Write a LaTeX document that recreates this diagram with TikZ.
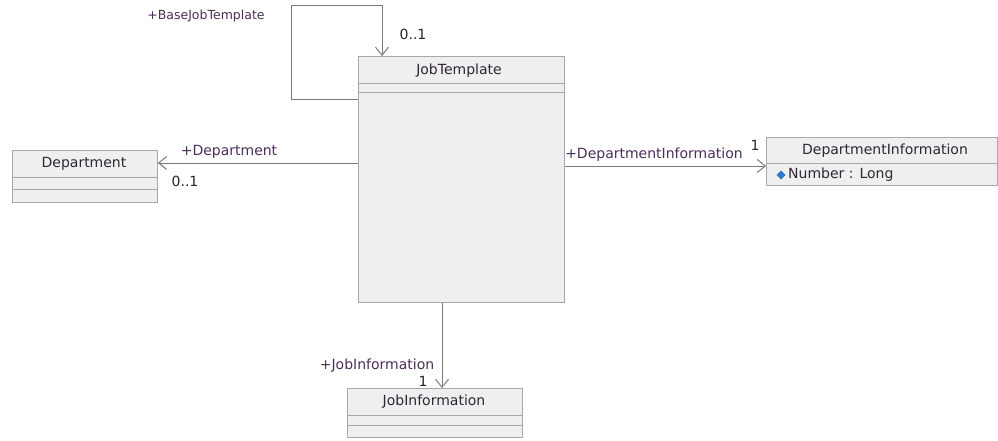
\documentclass[tikz,border=0pt]{standalone}
\usepackage{fontspec}
\setmainfont{DejaVu Sans}
\usetikzlibrary{arrows.meta}
\definecolor{boxfill}{HTML}{EFEFEF}
\definecolor{boxline}{HTML}{A8A8A8}
\definecolor{conn}{HTML}{7A7A7A}
\definecolor{nametext}{HTML}{2E2634}
\definecolor{labeltext}{HTML}{4C2E58}
\definecolor{attrblue}{HTML}{2A7FD0}
\tikzset{
  cls/.style={draw=boxline, fill=boxfill, line width=0.9pt, rectangle, inner sep=0pt, anchor=north west},
  sep/.style={draw=boxline, line width=0.9pt},
  clsname/.style={text=nametext, font=\fontsize{14}{16}\selectfont, inner sep=0pt},
  rolelabel/.style={text=labeltext, font=\fontsize{14}{16}\selectfont, inner sep=0pt},
  smalllabel/.style={text=labeltext, font=\fontsize{12.5}{14}\selectfont, inner sep=0pt},
  multlabel/.style={text=black!85, font=\fontsize{14}{16}\selectfont, inner sep=0pt},
  assoc/.style={draw=conn, line width=1pt, -{Straight Barb[length=8pt,width=13pt]}},
}
\begin{document}
\begin{tikzpicture}[x=1pt,y=-1pt]
\useasboundingbox (0,0) rectangle (998,441);
\fill[white] (0,0) rectangle (998,441);

% JobTemplate
\node[cls, minimum width=206pt, minimum height=246pt] (jt) at (358,56) {};
\draw[sep] (358,83) -- (564,83);
\draw[sep] (358,92) -- (564,92);
\node[clsname] (jtname) at (459,71) {JobTemplate};

% Department
\node[cls, minimum width=145pt, minimum height=52pt] (dep) at (12,150) {};
\draw[sep] (12,177) -- (157,177);
\draw[sep] (12,189) -- (157,189);
\node[clsname] (depname) at (84,164) {Department};

% DepartmentInformation
\node[cls, minimum width=231pt, minimum height=48pt] (dinfo) at (766,137) {};
\draw[sep] (766,163) -- (997,163);
\node[clsname] (dinfoname) at (885,151) {DepartmentInformation};
\node[fill=attrblue, draw=attrblue!70!black, line width=0.3pt, minimum size=6pt, inner sep=0pt, rotate=45] (dia) at (781,175) {};
\node[clsname, anchor=west] (attr) at (788,175) {Number : Long};

% JobInformation
\node[cls, minimum width=175pt, minimum height=49pt] (jinfo) at (347,388) {};
\draw[sep] (347,415) -- (522,415);
\draw[sep] (347,425) -- (522,425);
\node[clsname] (jinfoname) at (434,402) {JobInformation};

% connectors
\coordinate (lp1) at (291,100);
\coordinate (lp2) at (382,6);
\draw[assoc] (jt.west |- lp1) -- (lp1) |- (lp2) -- (jt.north -| lp2);

\coordinate (dy) at (250,163);
\draw[assoc] (jt.west |- dy) -- (dep.east |- dy);

\coordinate (diy) at (650,166);
\draw[assoc] (jt.east |- diy) -- (dinfo.west |- diy);

\coordinate (jix) at (442,350);
\draw[assoc] (jt.south -| jix) -- (jinfo.north -| jix);

% labels
\node[smalllabel] (l1) at (206,16) {+BaseJobTemplate};
\node[multlabel] (m1) at (413,34) {0..1};
\node[rolelabel] (l2) at (229,152) {+Department};
\node[multlabel] (m2) at (185,181) {0..1};
\node[rolelabel] (l3) at (654,155) {+DepartmentInformation};
\node[multlabel] (m3) at (755,145) {1};
\node[rolelabel] (l4) at (377,366) {+JobInformation};
\node[multlabel] (m4) at (423,381) {1};
\end{tikzpicture}
\end{document}
